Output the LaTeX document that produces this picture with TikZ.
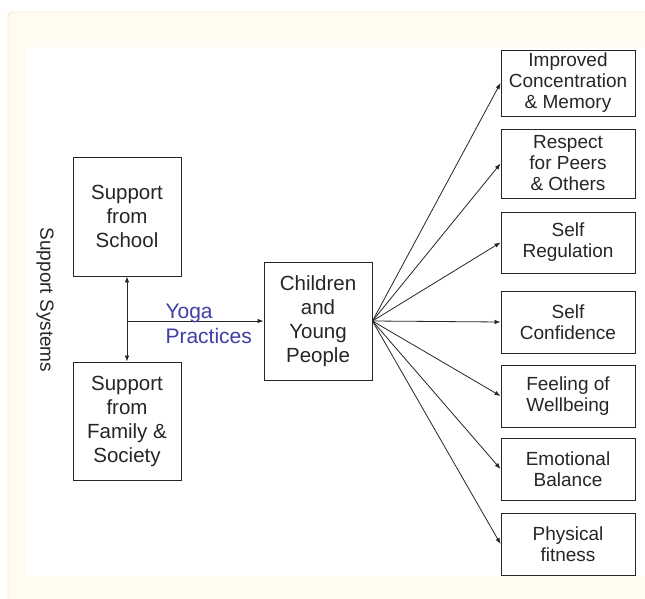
\documentclass[tikz,border=0pt]{standalone}
\usepackage{fontspec}
\setmainfont{Liberation Sans}
\usetikzlibrary{arrows.meta}
\definecolor{panelbg}{HTML}{FFFBF0}
\definecolor{panelrim}{HTML}{F3CDB0}
\definecolor{yogablue}{HTML}{3F3FA6}
\definecolor{inkgray}{HTML}{262626}
\tikzset{
  box/.style={draw=inkgray, line width=0.9pt, inner sep=0pt, align=center,
    text=inkgray, minimum width=108pt, minimum height=118pt,
    font=\fontsize{20.5}{24}\selectfont},
  outbox/.style={box, minimum width=134pt, minimum height=62pt,
    font=\fontsize{19}{21}\selectfont},
  link/.style={draw=inkgray, line width=0.8pt, -{Latex[length=6pt,width=4.5pt]}}
}
\begin{document}
\begin{tikzpicture}[x=1pt, y=-1pt]
        \useasboundingbox (0, 0) rectangle (645, 599);
        % backdrop
        \fill [white] (0, 0) rectangle (645, 599);
        \filldraw [fill=panelbg, draw=panelrim, rounded corners=4pt] (8, 12) rectangle (660, 620);
        \fill [white] (27, 47) rectangle (650, 576);
        \node [rotate=-90, text=inkgray, font=\fontsize{19}{21}\selectfont] (sys) at (45, 300) {Support Systems};
        % left column
        \node [box, minimum height=119pt] (school) at (127, 216.5) {Support\\from\\School};
        \node [box] (family) at (127, 421) {Support\\from\\Family \&\\Society};
        \node [box] (kids) at (318, 321) {Children\\and\\Young\\People};
        \draw [link, {Latex[length=6pt,width=4.5pt]}-{Latex[length=6pt,width=4.5pt]}] (school.south) -- (family.north);
        \coordinate (hub) at (school.south |- kids.west);
        \draw [link] (hub) -- (kids.west);
        \node [anchor=west, align=left, text=yogablue, font=\fontsize{21}{25}\selectfont] (yoga) at (162, 324) {Yoga\\Practices};
        % outcomes
        \foreach \name/\y/\h/\txt in {
                conc/83/66/{Improved\\Concentration\\\& Memory},
                resp/163.5/69/{Respect\\for Peers\\\& Others},
                reg/242.5/61/{Self\\Regulation},
                conf/322/62/{Self\\Confidence},
                well/396/62/{Feeling of\\Wellbeing},
                emo/469/62/{Emotional\\Balance},
                fit/544/62/{Physical\\fitness}}{
                \node [outbox, minimum height=\h pt] (\name) at (568, \y) {\txt};
                \draw [link] (kids.east) -- (\name.west);
            }
    \end{tikzpicture}
\end{document}
